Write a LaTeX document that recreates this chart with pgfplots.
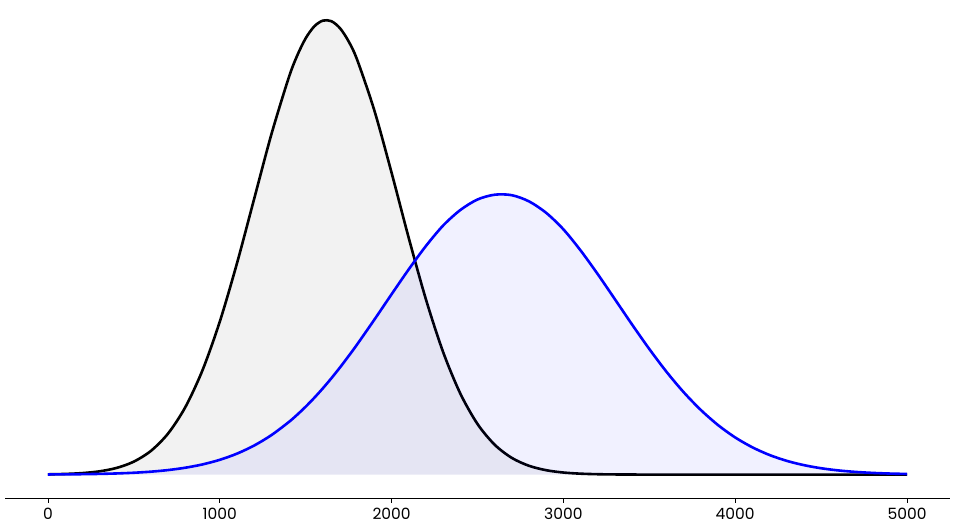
\documentclass[border=0pt]{standalone}
\usepackage{fontspec}
\setmainfont{Poppins}
\usepackage{pgfplots}
\pgfplotsset{compat=1.18}
\usepackage{pgfplotstable}

% densities, in units of 1e-4
\pgfplotstableread{
x     black   blue
0     0.0056  0.0028
100   0.0136  0.0050
200   0.0313  0.0086
300   0.0680  0.0145
400   0.1397  0.0240
500   0.2713  0.0388
600   0.4977  0.0614
700   0.8625  0.0950
800   1.4130  0.1439
900   2.1860  0.2131
1000  3.1960  0.3088
1100  4.4150  0.4378
1200  5.7620  0.6072
1300  7.1070  0.8238
1400  8.2820  1.0936
1450  8.7530  1.2494
1500  9.1200  1.4197
1550  9.3690  1.6046
1600  9.4890  1.8037
1650  9.4760  2.0160
1700  9.3290  2.2410
1750  9.0550  2.4780
1800  8.6670  2.7240
1900  7.6070  3.2400
2000  6.3090  3.7700
2100  4.9440  4.2910
2200  3.6610  4.7790
2300  2.5610  5.2060
2400  1.6940  5.5300
2500  1.0580  5.7500
2600  0.6243  5.8500
2700  0.3484  5.8400
2800  0.1835  5.7100
2900  0.0914  5.4700
3000  0.0430  5.1260
3100  0.0191  4.6850
3200  0.0080  4.1890
3300  0.0032  3.6640
3400  0.0012  3.1350
3500  0.0004  2.6250
3600  0.0001  2.1490
3700  0.0000  1.7220
3800  0.0000  1.3500
3900  0.0000  1.0350
4000  0.0000  0.7760
4100  0.0000  0.5698
4200  0.0000  0.4090
4300  0.0000  0.2872
4400  0.0000  0.1973
4500  0.0000  0.1327
4600  0.0000  0.0872
4700  0.0000  0.0561
4800  0.0000  0.0353
4900  0.0000  0.0217
5000  0.0000  0.0131
}\dens

\begin{document}
\begin{tikzpicture}
\begin{axis}[
  width=944bp, height=498bp,
  scale only axis,
  xmin=-250, xmax=5250,
  ymin=-0.50, ymax=9.92,
  axis x line*=bottom,
  axis y line=none,
  x axis line style={line width=0.9bp},
  xtick={0,1000,...,5000},
  xtick align=outside,
  major tick length=4bp,
  x tick style={black, line width=0.8bp},
  xticklabel style={font=\fontsize{15.5bp}{18bp}\selectfont, yshift=-2bp},
  /pgf/number format/assume math mode=true,
  /pgf/number format/1000 sep={},
  clip=false,
]
\coordinate (tl) at (rel axis cs:0,1);
\coordinate (br) at (rel axis cs:1,0);
\addplot[draw=none, fill=black, fill opacity=0.05, smooth] table[x=x, y=black] {\dens} \closedcycle;
\addplot[black, line width=2.6bp, smooth] table[x=x, y=black] {\dens};
\addplot[draw=none, fill=blue, fill opacity=0.055, smooth] table[x=x, y=blue] {\dens} \closedcycle;
\addplot[blue, line width=2.6bp, smooth] table[x=x, y=blue] {\dens};
\end{axis}
\path ([xshift=-5bp]tl) rectangle ([xshift=14bp, yshift=-29bp]br);
\end{tikzpicture}
\end{document}
